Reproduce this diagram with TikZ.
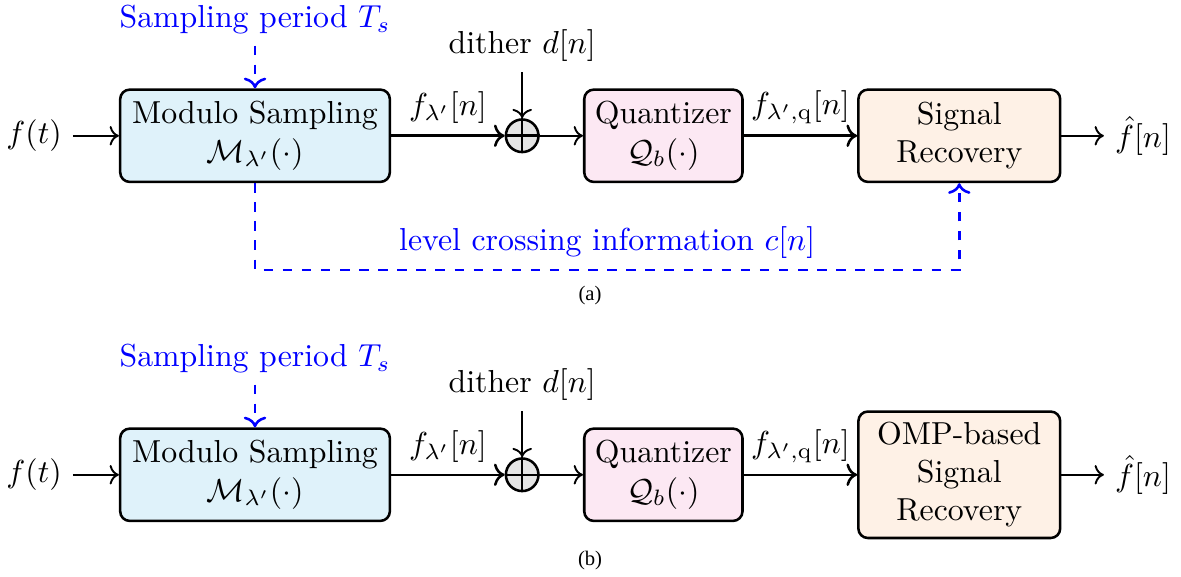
\documentclass[tikz,border=0pt]{standalone}
\usepackage{amsmath,amssymb}
\usepackage{fontspec}
\newfontfamily\capfont{Liberation Serif}
\usepackage{xcolor}
\usepackage{tikz}
\usetikzlibrary{arrows.meta,positioning,calc}

\definecolor{modfill}{RGB}{223,242,250}
\definecolor{quantfill}{RGB}{252,232,243}
\definecolor{recfill}{RGB}{254,241,230}

\begin{document}
\begin{tikzpicture}[
    block/.style={rectangle, draw, thick, rounded corners=3pt,
                  align=center, minimum height=1.02cm},
    adder/.style={circle, draw, thick, fill=gray!20,
                  minimum size=0.36cm, inner sep=0pt},
    signal/.style={->, semithick},
    bus/.style={->, thick},
    ctrl/.style={->, dashed, thick, blue},
    subcap/.style={font=\capfont\fontsize{6.5}{7}\selectfont}
]
\useasboundingbox (0,0) rectangle (13.05,-6.365);

% (a) modulo sampling with level crossing side information
\node[block, fill=modfill, minimum width=2.98cm] (modA) at (2.818,-1.50) {Modulo Sampling\\$\mathcal{M}_{\lambda'}(\cdot)$};
\node[adder] (sumA) at (5.77,-1.50) {};
\node[block, fill=quantfill, minimum width=1.735cm] (quantA) at (7.33,-1.50) {Quantizer\\$\mathcal{Q}_b(\cdot)$};
\node[block, fill=recfill, minimum width=2.23cm] (recA) at (10.60,-1.50) {Signal\\Recovery};
\node (inA) at (0.376,-1.50) {$f(t)$};
\node (outA) at (12.63,-1.50) {$\hat{f}[n]$};
\node[blue] (tsA) at (2.818,-0.22) {Sampling period $T_s$};
\node (dA) at (5.77,-0.50) {dither $d[n]$};
\coordinate (lcA) at (2.818,-2.983);

\draw[thick] (sumA.north) -- (sumA.south) (sumA.west) -- (sumA.east);
\draw[signal] (inA) -- (modA);
\draw[bus] (modA) -- node[above] {$f_{\lambda'}[n]$} (sumA);
\draw[signal] (dA) -- (sumA);
\draw[signal] (sumA) -- (quantA);
\draw[bus] (quantA) -- node[above] {$f_{\lambda',\mathrm{q}}[n]$} (recA);
\draw[signal] (recA) -- (outA);
\draw[ctrl] (tsA) -- (modA);
\draw[ctrl] (modA.south) -- (lcA) -| node[pos=0.25, above] {level crossing information $c[n]$} (recA.south);

\node[subcap] (capA) at (6.52,-3.27) {(a)};

% (b) OMP-based recovery
\node[block, fill=modfill, minimum width=2.98cm] (modB) at (2.818,-5.246) {Modulo Sampling\\$\mathcal{M}_{\lambda'}(\cdot)$};
\node[adder] (sumB) at (5.77,-5.246) {};
\node[block, fill=quantfill, minimum width=1.735cm] (quantB) at (7.33,-5.246) {Quantizer\\$\mathcal{Q}_b(\cdot)$};
\node[block, fill=recfill, minimum width=2.23cm, minimum height=1.26cm] (recB) at (10.60,-5.246) {OMP-based\\Signal\\Recovery};
\node (inB) at (0.376,-5.246) {$f(t)$};
\node (outB) at (12.63,-5.246) {$\hat{f}[n]$};
\node[blue] (tsB) at (2.818,-3.966) {Sampling period $T_s$};
\node (dB) at (5.77,-4.246) {dither $d[n]$};

\draw[thick] (sumB.north) -- (sumB.south) (sumB.west) -- (sumB.east);
\draw[signal] (inB) -- (modB);
\draw[bus] (modB) -- node[above] {$f_{\lambda'}[n]$} (sumB);
\draw[signal] (dB) -- (sumB);
\draw[signal] (sumB) -- (quantB);
\draw[bus] (quantB) -- node[above] {$f_{\lambda',\mathrm{q}}[n]$} (recB);
\draw[signal] (recB) -- (outB);
\draw[ctrl] (tsB) -- (modB);

\node[subcap] (capB) at (6.52,-6.19) {(b)};

\end{tikzpicture}
\end{document}
